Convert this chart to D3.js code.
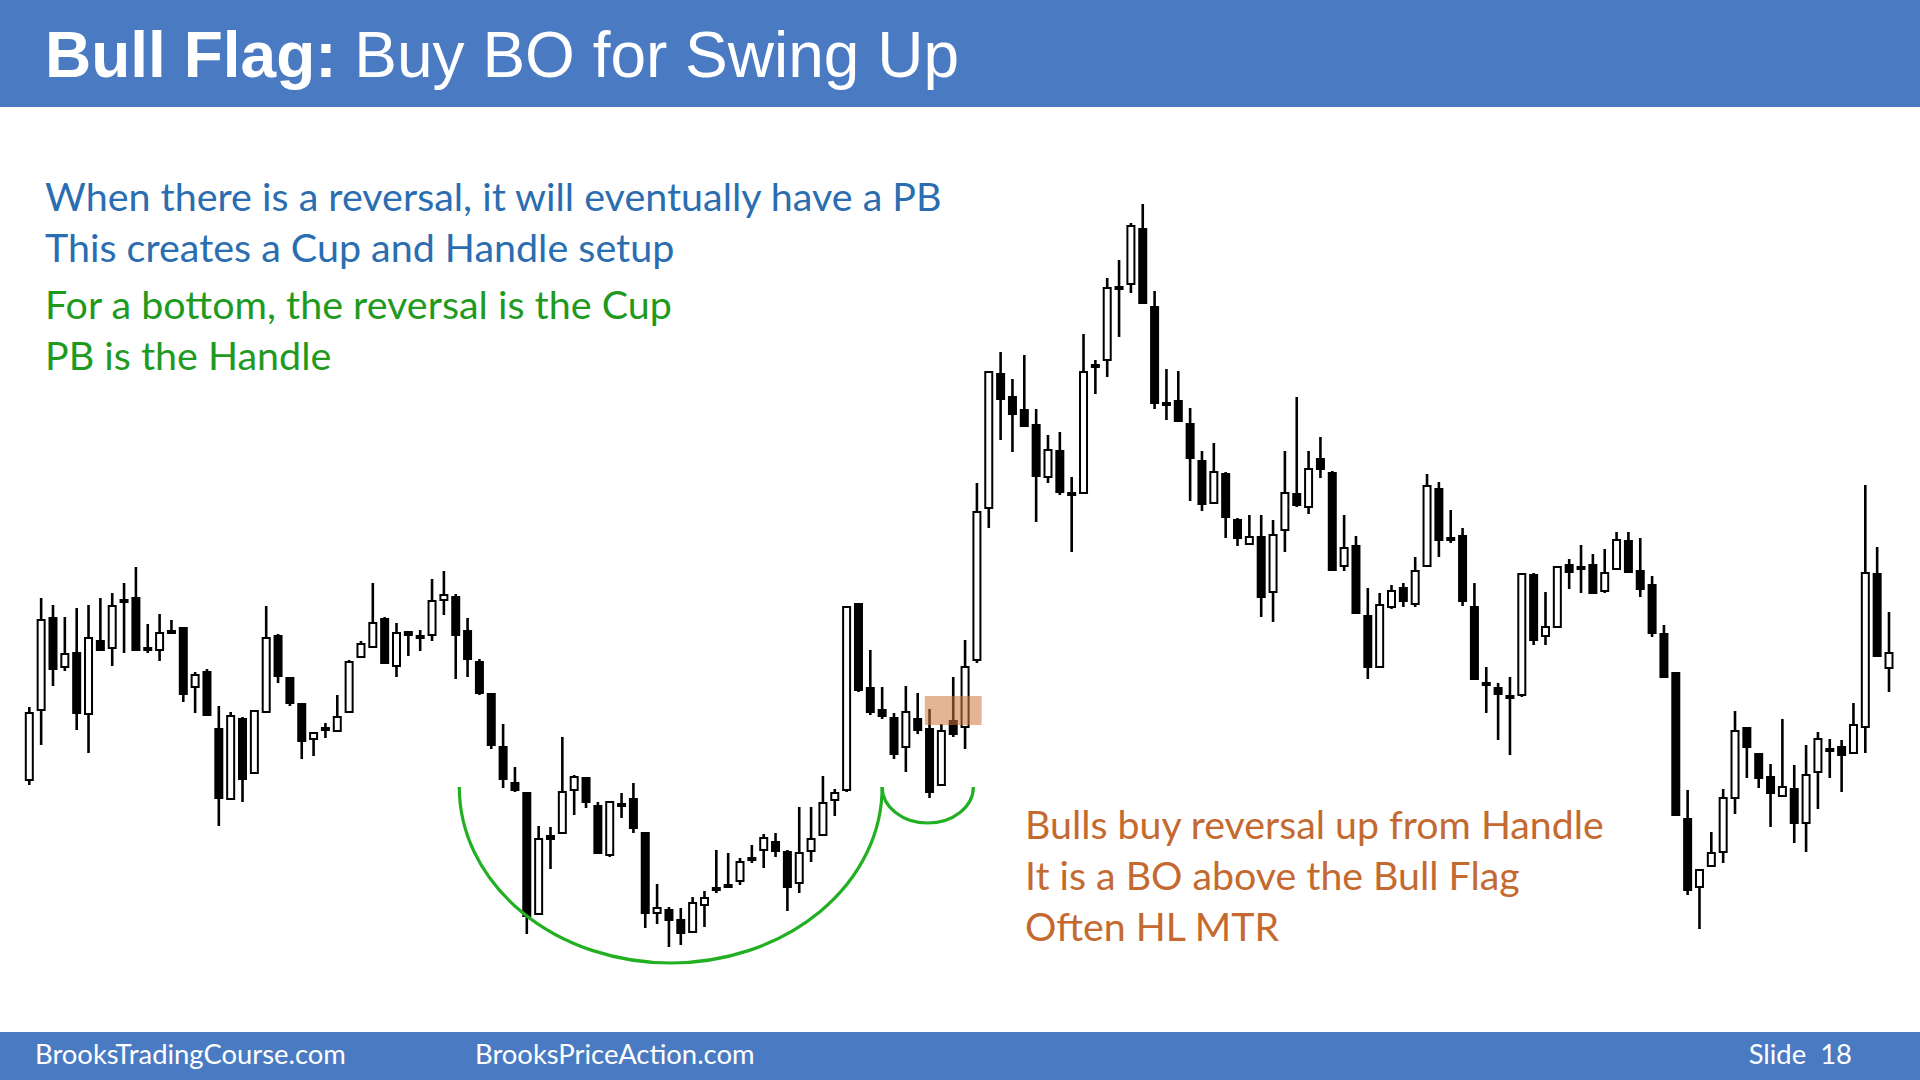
<!DOCTYPE html>
<html><head><meta charset="utf-8">
<script src="https://cdn.jsdelivr.net/npm/d3@7"></script>
<style>
html,body{margin:0;padding:0;background:#fff;overflow:hidden;}
svg{display:block;}
</style></head><body>
<svg id="chart" width="1920" height="1080"></svg>
<script>
// ---- Data (price units) ----
const opens = [22.0,29.0,38.2,33.3,34.7,28.6,35.9,35.2,39.9,40.2,
35.1,35.0,36.8,37.2,31.3,32.8,27.1,20.1,28.1,22.7,
28.8,36.4,32.2,29.6,26.1,27.1,26.9,28.8,34.3,35.3,
38.1,33.4,36.8,36.3,36.5,40.0,40.3,36.9,33.8,30.6,
25.3,21.7,20.7,8.6,16.4,16.7,21.0,22.2,19.4,14.5,
19.5,20.1,16.7,8.7,9.0,8.0,6.8,9.5,11.1,11.3,
11.9,14.1,15.0,15.8,14.8,11.7,14.9,16.5,20.0,21.0,
39.6,31.2,29.0,28.2,25.3,28.1,27.1,21.5,27.9,27.3,
34.0,49.2,62.6,60.3,59.0,57.5,52.3,54.9,50.6,50.7,
63.4,64.0,71.2,71.6,77.1,69.3,59.6,59.9,57.6,53.9,
49.7,52.6,48.0,45.6,46.3,40.8,47.0,50.6,49.3,54.1,
52.7,43.4,45.4,38.4,33.3,39.3,41.2,39.6,43.4,51.1,
46.1,46.4,39.3,31.6,31.2,30.3,30.5,42.5,36.4,37.3,
43.5,43.2,43.5,40.9,43.1,45.9,42.9,41.5,36.6,32.7,
18.1,11.3,13.4,14.8,20.2,27.2,24.6,22.3,20.4,21.1,
17.7,22.8,25.0,25.3,24.7,27.3,42.6,33.2];
const highs = [29.3,40.2,39.5,38.3,39.2,39.5,40.2,40.7,41.7,43.3,
37.6,38.6,38.0,37.2,32.8,33.1,29.4,28.8,28.3,28.9,
39.4,36.6,32.3,29.7,26.7,27.7,30.5,34.0,35.9,41.7,
38.3,37.7,36.8,37.0,42.1,42.9,40.6,38.2,34.1,30.7,
27.6,23.3,20.7,17.4,17.3,26.3,22.5,22.3,19.8,19.9,
20.7,21.7,16.7,11.6,9.3,9.2,10.3,10.9,15.0,14.7,
14.2,15.5,16.6,16.7,15.0,19.3,19.3,22.4,21.1,39.3,
39.6,35.0,31.3,28.7,31.4,30.7,29.1,27.6,32.3,36.0,
51.7,62.8,64.8,62.1,64.5,59.1,56.5,56.8,52.3,66.6,
64.0,72.2,74.0,77.7,79.6,70.9,63.1,62.9,59.2,54.9,
55.7,52.8,48.2,48.5,48.5,48.0,54.9,60.3,54.9,56.3,
52.9,48.5,46.4,41.2,40.7,41.5,41.7,44.3,52.6,51.8,
49.0,47.2,41.7,33.3,31.7,32.3,42.7,42.7,40.8,43.4,
44.1,45.5,44.6,45.1,46.8,46.8,46.2,42.4,37.5,32.8,
21.0,13.0,16.8,21.1,28.9,27.3,24.7,23.6,28.1,23.5,
25.5,26.8,26.1,26.0,29.7,51.5,45.3,38.8];
const lows = [21.5,25.5,31.4,32.9,27.0,24.7,34.9,33.4,34.7,34.9,
34.7,33.9,36.7,29.8,28.7,28.5,17.4,20.1,19.8,22.7,
28.8,31.7,29.4,24.1,24.4,26.2,26.9,28.8,34.3,35.3,
33.7,32.3,34.4,34.9,35.9,38.5,32.1,32.3,30.5,25.1,
21.2,20.8,6.6,8.6,13.1,16.6,18.5,19.2,14.6,14.3,
18.2,16.7,7.2,7.6,5.3,5.5,6.8,7.3,10.7,11.3,
11.5,13.7,13.2,14.3,8.9,10.7,13.8,16.5,18.4,20.8,
30.8,28.5,28.1,24.1,22.8,26.6,20.2,21.5,26.3,25.1,
33.7,47.2,56.0,54.8,57.4,47.8,51.7,50.5,44.8,50.7,
60.6,62.3,66.3,70.7,69.7,59.1,58.0,57.8,49.9,48.9,
49.7,46.2,45.4,45.6,38.3,37.8,44.8,49.3,48.6,52.2,
43.0,42.9,38.7,32.1,33.3,39.1,39.3,39.3,43.4,44.3,
45.7,39.4,32.1,28.7,26.0,24.5,30.3,35.5,35.5,37.3,
41.1,40.7,40.7,40.7,43.1,42.7,40.3,36.3,32.3,18.5,
10.5,7.1,13.4,13.7,18.6,22.2,21.2,17.3,20.4,15.7,
14.8,19.1,22.2,20.8,24.7,24.7,34.4,30.8];
const closes = [28.7,38.0,33.1,34.6,28.7,36.2,35.0,39.4,39.9,35.0,
35.1,36.7,36.8,30.6,32.5,28.5,20.2,28.4,22.1,28.9,
36.2,32.4,29.7,25.9,26.7,27.1,28.3,33.8,35.6,37.7,
33.7,36.7,36.5,36.3,39.9,40.5,36.5,34.1,30.7,25.5,
22.1,21.0,8.4,16.1,16.1,20.8,22.3,19.8,14.7,19.8,
19.5,17.2,8.7,9.2,8.0,6.7,9.7,10.2,11.1,11.5,
13.8,14.1,16.2,14.9,11.3,14.7,16.1,19.7,20.7,39.3,
31.0,28.8,28.4,24.6,28.8,27.0,20.8,26.9,26.6,33.3,
48.8,62.8,60.1,58.6,57.4,52.4,55.0,50.8,50.6,62.8,
63.4,71.2,71.2,77.4,69.7,59.7,59.6,57.9,54.2,49.6,
52.8,48.3,46.2,46.3,40.3,46.5,50.7,49.5,53.1,53.1,
43.0,45.2,38.7,33.3,39.5,40.9,39.9,42.9,51.4,46.0,
46.1,39.9,32.1,31.6,30.6,30.3,42.6,36.0,37.3,43.3,
42.8,43.2,40.7,42.7,46.0,42.8,41.1,36.7,32.3,18.5,
11.0,13.0,14.7,20.2,26.9,25.3,22.2,20.7,21.3,17.7,
22.5,26.1,25.0,24.5,27.5,42.7,34.4,34.7];

// annotations in data units (bar index, price)
const cupArc = [36.3, 72.0, 21.3, 3.7];      // x0, x1, rim price, bottom price
const handleArc = [72.0, 79.7, 21.3, 17.7];
const flagZone = [75.6, 80.4, 30.4, 27.5];   // x0, x1, top price, bottom price

const titleBold = "Bull Flag:";
const titleRest = " Buy BO for Swing Up";
const blueLines = ["When there is a reversal, it will eventually have a PB", "This creates a Cup and Handle setup"];
const greenLines = ["For a bottom, the reversal is the Cup", "PB is the Handle"];
const orangeLines = ["Bulls buy reversal up from Handle", "It is a BO above the Bull Flag", "Often HL MTR"];
const footerLeft = "BrooksTradingCourse.com";
const footerMid = "BrooksPriceAction.com";
const footerRight = "Slide  18";

// ---- Drawing ----
const svg = d3.select("#chart");
const n = opens.length;
const x = d3.scaleLinear().domain([0, n - 1]).range([29.3, 1889]);
const y = d3.scaleLinear().domain([0, 80]).range([1000, 200]);

svg.append("rect").attr("x",0).attr("y",0).attr("width",1920).attr("height",1080).attr("fill","#ffffff");
svg.append("rect").attr("x",0).attr("y",0).attr("width",1920).attr("height",107).attr("fill","#4a7bc2");
svg.append("rect").attr("x",0).attr("y",1032).attr("width",1920).attr("height",48).attr("fill","#4a7bc2");

const title = svg.append("text").attr("x",45).attr("y",77)
  .attr("font-family","'Liberation Sans', Arial, sans-serif").attr("font-size",64).attr("fill","#fff");
title.append("tspan").attr("font-weight","bold").text(titleBold);
title.append("tspan").attr("font-weight","normal").text(titleRest).attr("xml:space","preserve");
title.style("white-space","pre");

function textBlock(lines, x0, baselines, color, targetWidth) {
  const g = svg.append("g").attr("font-family","Lato, 'Open Sans', sans-serif").attr("fill", color);
  const ts = lines.map((t,i) => g.append("text").attr("x", x0).attr("y", baselines[i]).attr("font-size", 40).text(t));
  const w = ts[0].node().getComputedTextLength();
  const fs = 40 * targetWidth / w;
  ts.forEach(t => t.attr("font-size", fs));
  return fs;
}
const fsBlue = textBlock(blueLines, 45, [211, 262], "#2a6db0", 897);
const gG = svg.append("g").attr("font-family","Lato, 'Open Sans', sans-serif").attr("fill","#1f9a1f");
greenLines.forEach((t,i) => gG.append("text").attr("x",45).attr("y",[319,370][i]).attr("font-size",fsBlue).text(t));
textBlock(orangeLines, 1025, [839, 890, 941], "#c46a30", 579);

// footer
const fg = svg.append("g").attr("font-family","Lato, 'Open Sans', sans-serif").attr("fill","#fff");
const f1 = fg.append("text").attr("x",35).attr("y",1064).attr("font-size",26).text(footerLeft);
const fsF = 26 * 311 / f1.node().getComputedTextLength();
f1.attr("font-size", fsF);
fg.append("text").attr("x",475).attr("y",1064).attr("font-size",fsF).text(footerMid);
fg.append("text").attr("x",1852).attr("y",1064).attr("font-size",fsF).attr("text-anchor","end").style("white-space","pre").text(footerRight);

// candles
const data = d3.range(n).map(i => ({i, o: opens[i], h: highs[i], l: lows[i], c: closes[i]}));
const cg = svg.append("g");
const bw = 7;
cg.selectAll("line.wick").data(data).join("line")
  .attr("x1", d => x(d.i)).attr("x2", d => x(d.i))
  .attr("y1", d => y(d.h)).attr("y2", d => y(d.l))
  .attr("stroke","#000").attr("stroke-width",2.6);
cg.selectAll("rect.body").data(data).join("rect")
  .attr("x", d => x(d.i) - bw/2)
  .attr("width", bw)
  .attr("y", d => {
    const top = y(Math.max(d.o, d.c)), bot = y(Math.min(d.o, d.c));
    return bot - top < 2 ? (top + bot)/2 - 1 : top;
  })
  .attr("height", d => Math.max(2, y(Math.min(d.o, d.c)) - y(Math.max(d.o, d.c))))
  .attr("fill", d => (d.c > d.o && (d.c - d.o) >= 0.3) ? "#fff" : "#000")
  .attr("stroke","#000").attr("stroke-width",2);

// annotations
function halfEllipse(a) {
  const x0 = x(a[0]), x1 = x(a[1]), yr = y(a[2]), yb = y(a[3]);
  const rx = (x1 - x0)/2, ry = yb - yr;
  return `M${x0},${yr} A${rx},${ry} 0 0 0 ${x1},${yr}`;
}
svg.append("path").attr("d", halfEllipse(cupArc)).attr("fill","none").attr("stroke","#22b022").attr("stroke-width",3.2);
svg.append("path").attr("d", halfEllipse(handleArc)).attr("fill","none").attr("stroke","#22b022").attr("stroke-width",3.2);
svg.append("rect")
  .attr("x", x(flagZone[0])).attr("width", x(flagZone[1]) - x(flagZone[0]))
  .attr("y", y(flagZone[2])).attr("height", y(flagZone[3]) - y(flagZone[2]))
  .attr("fill","rgb(205,118,62)").attr("opacity",0.55);
</script>
</body></html>
